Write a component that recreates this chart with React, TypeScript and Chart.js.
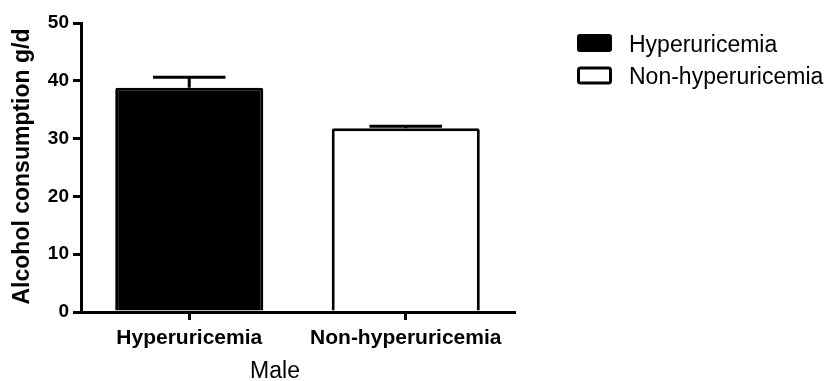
import React, { useEffect, useRef } from "react";
import { Chart, registerables } from "chart.js";

Chart.register(...registerables);

const categories = ["Hyperuricemia", "Non-hyperuricemia"];
const meanValues = [38.8, 31.8];
const errorUpper = [40.6, 32.15];
const legendLabels = ["Hyperuricemia", "Non-hyperuricemia"];
const barFills = ["#000000", "#ffffff"];
const yTitle = "Alcohol consumption g/d";
const xTitle = "Male";
const yMin = 0;
const yMax = 50;
const yStep = 10;

const FONT = "'Liberation Sans', Arial, Helvetica, sans-serif";

const errorBarPlugin = {
  id: "errorBars",
  afterDatasetsDraw(chart: any) {
    const meta = chart.getDatasetMeta(0);
    const ys = chart.scales.y;
    const ctx = chart.ctx;
    ctx.save();
    ctx.strokeStyle = "#000";
    ctx.lineWidth = 3;
    meta.data.forEach((bar: any, i: number) => {
      const x = bar.x;
      const yb = ys.getPixelForValue(meanValues[i]);
      const yt = ys.getPixelForValue(errorUpper[i]);
      const half = bar.width * 0.245;
      ctx.beginPath();
      ctx.moveTo(x, yb);
      ctx.lineTo(x, yt);
      ctx.moveTo(x - half, yt);
      ctx.lineTo(x + half, yt);
      ctx.stroke();
    });
    ctx.restore();
  },
};

const textPlugin = {
  id: "extraText",
  afterDraw(chart: any) {
    const ctx = chart.ctx;
    const area = chart.chartArea;
    ctx.save();
    ctx.fillStyle = "#000";
    ctx.font = `bold 23px ${FONT}`;
    ctx.textAlign = "center";
    ctx.textBaseline = "middle";
    ctx.translate(23, (area.top + area.bottom) / 2 - 1);
    ctx.rotate(-Math.PI / 2);
    ctx.fillText(yTitle, 0, 0);
    ctx.restore();

    ctx.save();
    ctx.fillStyle = "#000";
    ctx.font = `23px ${FONT}`;
    ctx.textAlign = "center";
    ctx.textBaseline = "alphabetic";
    ctx.fillText(xTitle, 275, 378);

    const rows = [43, 75.5];
    legendLabels.forEach((lab, i) => {
      const cy = rows[i];
      const x0 = 577, w = 35, h = 18;
      ctx.beginPath();
      if (i === 0) {
        ctx.fillStyle = "#000";
        ctx.roundRect(x0, cy - h / 2, w, h, 3);
        ctx.fill();
      } else {
        ctx.fillStyle = "#fff";
        ctx.strokeStyle = "#000";
        ctx.lineWidth = 3;
        ctx.roundRect(x0 + 1.5, cy - h / 2 + 1.5, w - 3, h - 3, 2);
        ctx.fill();
        ctx.stroke();
      }
      ctx.fillStyle = "#000";
      ctx.font = `23px ${FONT}`;
      ctx.textAlign = "left";
      ctx.textBaseline = "alphabetic";
      ctx.fillText(lab, 629, cy + 8.5);
    });
    ctx.restore();
  },
};

export default function App() {
  const ref = useRef<HTMLCanvasElement>(null);
  useEffect(() => {
    if (!ref.current) return;
    const chart = new Chart(ref.current, {
      type: "bar",
      data: {
        labels: categories,
        datasets: [
          {
            data: meanValues,
            backgroundColor: barFills,
            borderColor: "#000",
            borderWidth: 3,
            borderSkipped: "start",
            borderRadius: 2,
            barPercentage: 0.684,
            categoryPercentage: 1,
          },
        ],
      },
      options: {
        animation: false,
        responsive: false,
        devicePixelRatio: 1,
        layout: { padding: { top: 23, right: 317, bottom: 0, left: 0 } },
        plugins: { legend: { display: false }, tooltip: { enabled: false } },
        scales: {
          x: {
            offset: true,
            grid: {
              offset: false,
              drawOnChartArea: false,
              drawTicks: true,
              tickLength: 8,
              lineWidth: 3,
              color: "#000",
            },
            border: { display: true, color: "#000", width: 3 },
            ticks: {
              color: "#000",
              padding: 6,
              font: { family: FONT, size: 21, weight: "bold" },
              maxRotation: 0,
            },
            afterFit: (s: any) => {
              s.height = 69;
            },
          },
          y: {
            min: yMin,
            max: yMax,
            grid: {
              drawOnChartArea: false,
              drawTicks: true,
              tickLength: 8,
              lineWidth: 3,
              color: "#000",
            },
            border: { display: true, color: "#000", width: 3 },
            ticks: {
              stepSize: yStep,
              color: "#000",
              padding: 4,
              font: { family: FONT, size: 19, weight: "bold" },
            },
            afterFit: (s: any) => {
              s.width = 81;
            },
          },
        },
      },
      plugins: [errorBarPlugin, textPlugin],
    });
    return () => chart.destroy();
  }, []);
  return (
    <div style={{ position: "fixed", left: 0, top: 0, width: 831, height: 381, background: "#fff" }}>
      <canvas ref={ref} width={831} height={381} style={{ display: "block" }} />
    </div>
  );
}
